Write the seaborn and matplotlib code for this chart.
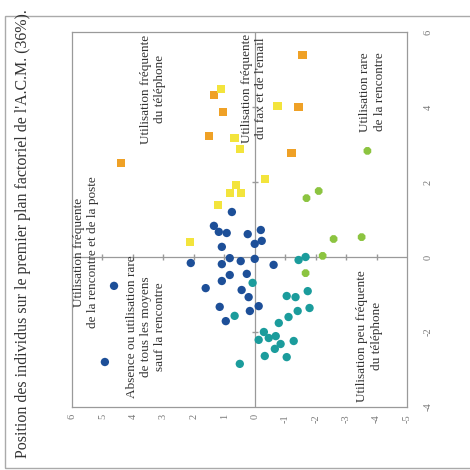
import numpy as np
import pandas as pd
import matplotlib.pyplot as plt
import matplotlib.patches as mpatches
import seaborn as sns

# coordonnées des individus (axe 1 vertical, axe 2 horizontal inversé)
orange_ax2 = [-1.57, 1.34, 1.05, 1.51, -1.44, -1.21, 4.39]
orange_ax1 = [5.39, 4.32, 3.87, 3.23, 4.00, 2.77, 2.51]

jaune_ax2 = [1.11, -0.75, 0.66, 0.49, -0.33, 0.62, 0.82, 0.46, 1.21, 2.13]
jaune_ax1 = [4.48, 4.03, 3.17, 2.88, 2.08, 1.92, 1.71, 1.71, 1.39, 0.40]

vert_ax2 = [-3.70, -2.10, -1.70, -2.59, -3.51, -2.23, -1.67]
vert_ax1 = [2.83, 1.76, 1.57, 0.48, 0.53, 0.03, -0.43]

bleu_ax2 = [0.75, 1.34, 1.18, 0.92, 0.23, -0.20, -0.23, 0.00, 1.08, 0.82,
            0.46, 0.00, -0.62, 2.10, 1.08, 1.08, 0.82, 0.26, 1.61, 0.43,
            0.20, 4.62, 1.15, 0.16, -0.13, 0.95, 4.92]
bleu_ax1 = [1.20, 0.83, 0.67, 0.64, 0.61, 0.72, 0.43, 0.35, 0.27, -0.03,
            -0.11, -0.05, -0.21, -0.16, -0.19, -0.64, -0.48, -0.45, -0.83, -0.88,
            -1.07, -0.77, -1.33, -1.44, -1.31, -1.71, -2.80]

turq_ax2 = [-1.44, -1.67, 0.07, -1.05, -1.34, -1.74, 0.66, -1.80, -1.41, -1.11,
            -0.79, -0.30, -0.13, -0.46, -0.69, -0.85, -0.66, -1.28, -0.33, -1.05, 0.49]
turq_ax1 = [-0.08, 0.00, -0.69, -1.04, -1.07, -0.91, -1.57, -1.36, -1.44, -1.60,
            -1.76, -2.00, -2.21, -2.16, -2.11, -2.32, -2.45, -2.24, -2.64, -2.67, -2.85]

groupes = ["orange", "jaune", "vert", "bleu", "turquoise"]
couleurs = {"orange": "#efa126", "jaune": "#f3e43c", "vert": "#8cc440",
            "bleu": "#1d4f98", "turquoise": "#1b9c9c"}
marqueurs = {"orange": "s", "jaune": "s", "vert": "8", "bleu": "o", "turquoise": "o"}

ticks_ax2 = [6, 5, 4, 3, 2, 1, 0, -1, -2, -3, -4, -5]
ticks_ax1 = [-4, -2, 0, 2, 4, 6]

etiquettes = [
    ("Utilisation fréquente\ndu téléphone", 3.34, 4.48),
    ("Utilisation fréquente\ndu fax et de l'email", 0.03, 4.50),
    ("Utilisation rare\nde la rencontre", -3.87, 4.40),
    ("Utilisation fréquente\nde la rencontre et de la poste", 5.54, 0.13),
    ("Absence ou utilisation rare\nde tous les moyens\nsauf la rencontre", 3.57, -1.87),
    ("Utilisation peu fréquente\ndu téléphone", -3.77, -2.10),
]
titre = "Position des individus sur le premier plan factoriel de l'A.C.M. (36%)."

df = pd.concat([
    pd.DataFrame({"ax2": orange_ax2, "ax1": orange_ax1, "groupe": "orange"}),
    pd.DataFrame({"ax2": jaune_ax2, "ax1": jaune_ax1, "groupe": "jaune"}),
    pd.DataFrame({"ax2": vert_ax2, "ax1": vert_ax1, "groupe": "vert"}),
    pd.DataFrame({"ax2": bleu_ax2, "ax1": bleu_ax1, "groupe": "bleu"}),
    pd.DataFrame({"ax2": turq_ax2, "ax1": turq_ax1, "groupe": "turquoise"}),
], ignore_index=True)

sns.set_style("white")
plt.rcParams['font.family'] = ['Liberation Serif', 'DejaVu Serif']
plt.rcParams['axes.unicode_minus'] = False

gris = "#9a9a9a"
fig = plt.figure(figsize=(4.7, 4.7), dpi=100)
ax = fig.add_axes([72/470, 1-407/470, 335/470, 375/470])

ax.axhline(0, color=gris, lw=0.9, zorder=1)
ax.axvline(0, color=gris, lw=0.9, zorder=1)
# petites graduations sur les axes centraux
ax.plot([t for t in ticks_ax2 if t not in (0, 6, -5)], [0]*9, ls="none",
        marker="|", ms=5, color=gris, zorder=1)
ax.plot([0]*3, [-2, 2, 4], ls="none", marker="_", ms=5, color=gris, zorder=1)

sns.scatterplot(data=df, x="ax2", y="ax1", hue="groupe", style="groupe",
                hue_order=groupes, style_order=groupes, palette=couleurs,
                markers=marqueurs, s=36, linewidth=0, legend=False, ax=ax, zorder=3)

ax.set_xlim(6, -5)
ax.set_ylim(-4, 6)
ax.set_xticks(ticks_ax2)
ax.set_yticks(ticks_ax1)
ax.yaxis.tick_right()
ax.tick_params(axis="x", length=0, pad=5, labelsize=7.5, labelcolor="#777777", labelrotation=90)
ax.tick_params(axis="y", length=0, pad=12, labelsize=7.5, labelcolor="#777777", labelrotation=90)
for lab in ax.get_yticklabels():
    lab.set_va("center")
ax.set_xlabel("")
ax.set_ylabel("")
for sp in ax.spines.values():
    sp.set_color(gris)
    sp.set_linewidth(0.9)

for txt, x, y in etiquettes:
    ax.text(x, y, txt, rotation=90, ha="center", va="center", fontsize=9.5,
            color="#333333", linespacing=1.25, multialignment="center", zorder=4)

fig.text(23/470, 1-234/470, titre, rotation=90, ha="center", va="center",
         fontsize=11.5, color="#333333")
fig.patches.append(mpatches.Rectangle((5/470, 2/470), 1.2, 452/470, transform=fig.transFigure,
                                      fill=False, edgecolor="#aaaaaa", lw=1))

fig.savefig("out.png", dpi=100)
